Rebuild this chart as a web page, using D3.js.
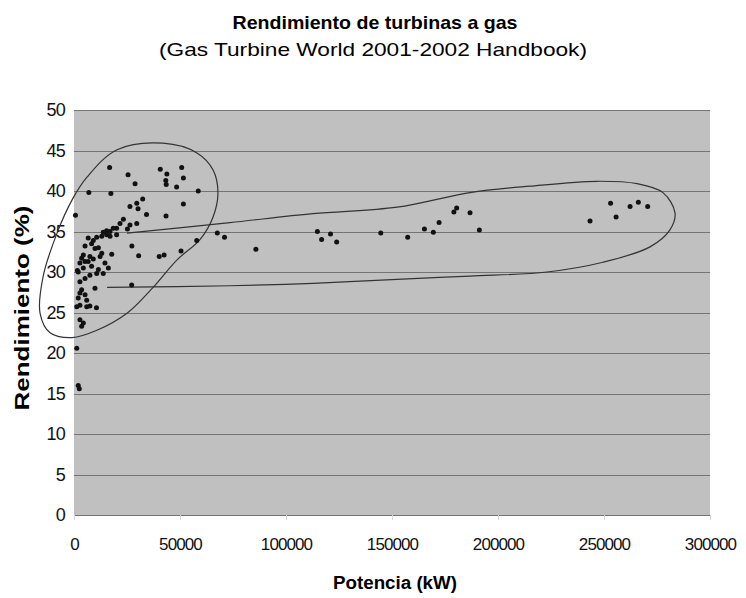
<!DOCTYPE html>
<html>
<head>
<meta charset="utf-8">
<script src="https://cdn.jsdelivr.net/npm/d3@7"></script>
<style>
  html, body { margin: 0; padding: 0; background: #fff; }
  svg { display: block; font-family: "Liberation Sans", Arial, sans-serif; }
</style>
</head>
<body>
<svg id="chart" width="746" height="598"></svg>
<script>
// Potencia (kW) y rendimiento (%) de cada turbina
const potenciaKW = [
  16800, 25500, 28800, 40700, 43800, 43300, 43500, 50800, 51600, 48400,
  58600, 7000, 17400, 700, 32400, 29600, 26400, 30200, 34200, 51600,
  43400, 23300, 21700, 29600, 26400, 25200, 20100, 18500, 17000, 15400,
  13800, 15400, 20100, 17000, 13100, 10700, 27300, 5200, 8300, 9900,
  13100, 17800, 4400, 7500, 6700, 30500, 2800, 5200, 8300, 14600,
  16200, 10700, 13800, 2000, 5200, 2800, 27200, 9900, 3600, 5200,
  2800, 2000, 6000, 2800, 1300, 6000, 10600, 7500, 2800, 4400,
  3600, 1300, 2000, 2500, 40200, 42500, 50500, 57900, 67600, 71000,
  85800, 6700, 9100, 11500, 3600, 9100, 12300, 4400, 11500, 7500,
  1600,
  114800, 116800, 121000, 123900, 144700, 157400, 165300, 169500, 172200, 179200,
  180500, 186800, 191200, 243400, 253100, 255700, 262300, 266200, 270600
];
const rendimientoPct = [
  42.9, 42.0, 40.9, 42.7, 42.1, 41.3, 40.8, 42.9, 41.6, 40.5,
  40.0, 39.8, 39.7, 37.0, 39.0, 38.5, 38.1, 37.8, 37.1, 38.4,
  36.9, 36.5, 36.0, 36.0, 35.8, 35.3, 35.4, 35.4, 35.0, 35.1,
  34.9, 34.6, 34.6, 34.4, 34.4, 34.3, 33.2, 33.2, 33.5, 32.9,
  32.3, 32.2, 32.1, 31.9, 31.3, 32.0, 31.1, 31.3, 30.7, 31.1,
  30.5, 29.8, 29.8, 30.0, 29.2, 28.8, 28.4, 28.0, 27.8, 27.2,
  27.4, 26.8, 26.5, 25.9, 25.7, 25.7, 25.6, 25.8, 24.1, 23.7,
  23.3, 20.6, 16.0, 15.6, 31.9, 32.1, 32.6, 33.9, 34.8, 34.3,
  32.8, 34.2, 33.9, 33.0, 31.7, 31.6, 31.9, 30.5, 30.3, 29.6,
  30.2,
  35.0, 34.0, 34.7, 33.7, 34.8, 34.3, 35.3, 34.9, 36.1, 37.4,
  37.9, 37.3, 35.2, 36.3, 38.5, 36.8, 38.1, 38.6, 38.1
];

// Contorno que agrupa las turbinas pequeñas [kW, %]
const contornoPequenas = [
  [42000, 45.9], [20300, 45.1], [6100, 41.7], [-900, 38.9], [-8000, 34.8],
  [-14600, 29.4], [-16000, 24.9], [-11300, 22.5], [-900, 21.9], [10800, 22.8],
  [25000, 24.9], [37300, 28.1], [48600, 31.5], [59400, 34.0], [65600, 36.8],
  [67900, 39.8], [65600, 42.6], [58000, 44.7]
];
// Contorno alargado de las turbinas grandes [kW, %]
const contornoGrandes = [
  [25000, 34.8], [73600, 36.1], [112700, 37.2], [152400, 38.0], [186800, 39.8],
  [215100, 40.6], [246700, 41.2], [265600, 40.9], [277800, 39.8], [283500, 37.3],
  [281100, 35.2], [271700, 33.1], [249500, 31.2], [223100, 30.0], [186800, 29.5],
  [152400, 29.1], [112700, 28.6], [73600, 28.3], [15600, 28.1]
];

const xTicks = [0, 50000, 100000, 150000, 200000, 250000, 300000];
const yTicks = [0, 5, 10, 15, 20, 25, 30, 35, 40, 45, 50];

const titulo = "Rendimiento de turbinas a gas";
const subtitulo = "(Gas Turbine World 2001-2002 Handbook)";
const etiquetaX = "Potencia (kW)";
const etiquetaY = "Rendimiento (%)";

const svg = d3.select("#chart");
const plot = { left: 74, right: 710, top: 110, bottom: 515 };

const x = d3.scaleLinear().domain([0, 300000]).range([plot.left, plot.right]);
const y = d3.scaleLinear().domain([0, 50]).range([plot.bottom, plot.top]);

// Fondo gris del área de trazado
svg.append("rect")
  .attr("x", plot.left).attr("y", plot.top)
  .attr("width", plot.right - plot.left).attr("height", plot.bottom - plot.top)
  .attr("fill", "#c0c0c0");

// Líneas de división horizontales
svg.append("g")
  .selectAll("line")
  .data(yTicks)
  .join("line")
  .attr("x1", plot.left).attr("x2", plot.right)
  .attr("y1", d => Math.round(y(d)) + 0.5).attr("y2", d => Math.round(y(d)) + 0.5)
  .attr("stroke", "#747474").attr("stroke-width", 1);

// Eje X
const xAxis = svg.append("g")
  .attr("transform", `translate(0,${plot.bottom})`)
  .call(d3.axisBottom(x).tickValues(xTicks).tickFormat(d3.format("d")).tickSize(5).tickPadding(18));
xAxis.select(".domain").remove();
xAxis.selectAll(".tick line").attr("stroke", "#d8d8d8");
xAxis.selectAll(".tick text")
  .attr("font-size", 17).attr("fill", "#111").attr("letter-spacing", "-0.9px");

// Eje Y
const yAxis = svg.append("g")
  .attr("transform", `translate(${plot.left},0)`)
  .call(d3.axisLeft(y).tickValues(yTicks).tickSize(0).tickPadding(9));
yAxis.select(".domain").remove();
yAxis.selectAll(".tick text")
  .attr("font-size", 18).attr("fill", "#111").attr("letter-spacing", "-0.7px");

// Contornos dibujados a mano alrededor de los dos grupos
svg.append("path")
  .datum(contornoPequenas)
  .attr("d", d3.line().x(d => x(d[0])).y(d => y(d[1])).curve(d3.curveCatmullRomClosed))
  .attr("fill", "none").attr("stroke", "#333").attr("stroke-width", 1.2);
svg.append("path")
  .datum(contornoGrandes)
  .attr("d", d3.line().x(d => x(d[0])).y(d => y(d[1])).curve(d3.curveCatmullRom))
  .attr("fill", "none").attr("stroke", "#333").attr("stroke-width", 1.2);

// Puntos
svg.append("g")
  .selectAll("circle")
  .data(d3.range(potenciaKW.length))
  .join("circle")
  .attr("cx", i => x(potenciaKW[i]))
  .attr("cy", i => y(rendimientoPct[i]))
  .attr("r", 2.5)
  .attr("fill", "#111");

// Títulos
svg.append("text")
  .attr("x", 375).attr("y", 29)
  .attr("text-anchor", "middle")
  .attr("font-size", 19).attr("font-weight", "bold")
  .attr("textLength", 285).attr("lengthAdjust", "spacingAndGlyphs")
  .text(titulo);
svg.append("text")
  .attr("x", 373).attr("y", 56)
  .attr("text-anchor", "middle")
  .attr("font-size", 19)
  .attr("textLength", 428).attr("lengthAdjust", "spacingAndGlyphs")
  .text(subtitulo);

// Rótulos de los ejes
svg.append("text")
  .attr("x", 395).attr("y", 589)
  .attr("text-anchor", "middle")
  .attr("font-size", 18).attr("font-weight", "bold")
  .attr("textLength", 124).attr("lengthAdjust", "spacingAndGlyphs")
  .text(etiquetaX);
svg.append("text")
  .attr("transform", "translate(29,308) rotate(-90)")
  .attr("text-anchor", "middle")
  .attr("font-size", 21).attr("font-weight", "bold")
  .attr("textLength", 205).attr("lengthAdjust", "spacingAndGlyphs")
  .text(etiquetaY);
</script>
</body>
</html>
